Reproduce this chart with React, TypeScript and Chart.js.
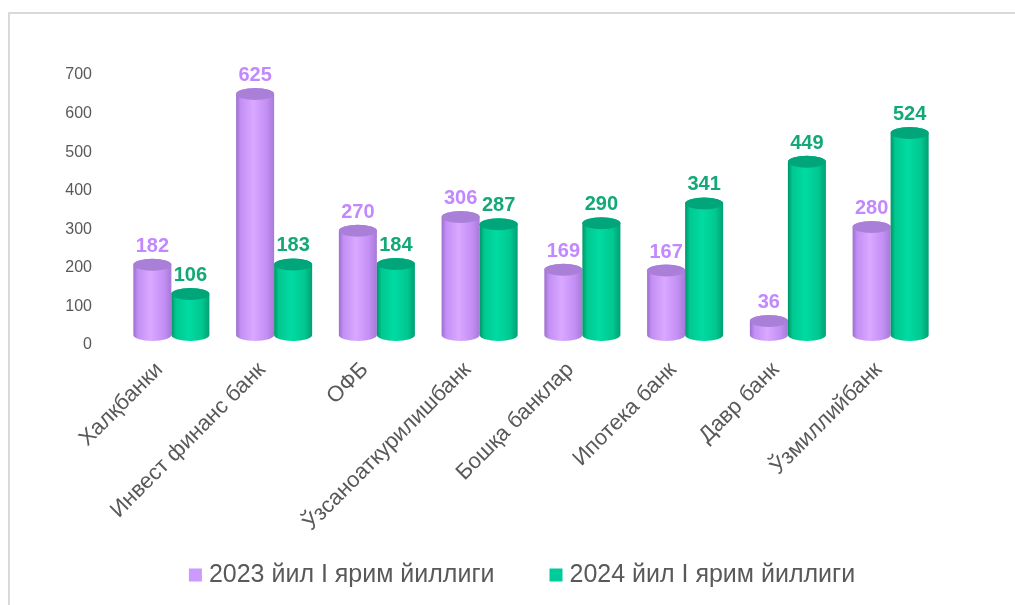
import React, { useEffect, useRef } from "react";
import { Chart, registerables } from "chart.js";

Chart.register(...registerables);

const categories = [
  "Халқбанки",
  "Инвест финанс банк",
  "ОФБ",
  "Ўзсаноаткурилишбанк",
  "Бошқа банклар",
  "Ипотека банк",
  "Давр банк",
  "Ўзмиллийбанк",
];
const series2023 = [182, 625, 270, 306, 169, 167, 36, 280];
const series2024 = [106, 183, 184, 287, 290, 341, 449, 524];
const seriesNames = ["2023 йил I ярим йиллиги", "2024 йил I ярим йиллиги"];
const yTicks = [0, 100, 200, 300, 400, 500, 600, 700];

const FONT = '"Liberation Sans", Arial, sans-serif';

const palettes = [
  { legend: "#cc99ff", edge: "#9c6fcc", light: "#d9a8ff", mid: "#c38ff5", right: "#a77ad6", top: "#a97fd8", label: "#c288ff" },
  { legend: "#00cc99", edge: "#009468", light: "#00dba2", mid: "#00c890", right: "#00a074", top: "#00a67a", label: "#12a877" },
];

const DY = -10;
const RY = 6;

const cylinderPlugin = {
  id: "cylinders",
  beforeDatasetDraw() {
    return false;
  },
  afterDatasetsDraw(chart: any) {
    const ctx = chart.ctx as CanvasRenderingContext2D;
    const labels: any[] = [];
    chart.data.datasets.forEach((ds: any, di: number) => {
      const meta = chart.getDatasetMeta(di);
      const pal = palettes[di];
      meta.data.forEach((bar: any, i: number) => {
        const { x, y, base, width } = bar.getProps(["x", "y", "base", "width"], true);
        const rx = width / 2;
        const l = x - rx;
        const r = x + rx;
        const top = y + DY;
        const bot = base + DY;
        ctx.save();
        const g = ctx.createLinearGradient(l, 0, r, 0);
        g.addColorStop(0, pal.edge);
        g.addColorStop(0.12, pal.mid);
        g.addColorStop(0.45, pal.light);
        g.addColorStop(0.8, pal.mid);
        g.addColorStop(1, pal.right);
        ctx.beginPath();
        ctx.moveTo(l, top);
        ctx.lineTo(l, bot);
        ctx.ellipse(x, bot, rx, RY, 0, Math.PI, 0, true);
        ctx.lineTo(r, top);
        ctx.ellipse(x, top, rx, RY, 0, 0, Math.PI, true);
        ctx.closePath();
        ctx.fillStyle = g;
        ctx.fill();
        ctx.beginPath();
        ctx.ellipse(x, top, rx, RY, 0, 0, Math.PI * 2);
        ctx.fillStyle = pal.top;
        ctx.fill();
        ctx.restore();
        labels.push({ x, y: top - RY - 7, text: String(ds.data[i]), color: pal.label });
      });
    });
    ctx.save();
    ctx.font = `bold 20px ${FONT}`;
    ctx.textAlign = "center";
    ctx.textBaseline = "alphabetic";
    labels.forEach((lb) => {
      ctx.fillStyle = lb.color;
      ctx.fillText(lb.text, lb.x, lb.y);
    });
    ctx.restore();
  },
};

const legendPlugin = {
  id: "bottomLegend",
  afterDraw(chart: any) {
    const ctx = chart.ctx as CanvasRenderingContext2D;
    const { left, right } = chart.chartArea;
    const box = 13;
    const gap = 7;
    const itemGap = 55;
    const cy = 575;
    ctx.save();
    ctx.font = `25px ${FONT}`;
    const items = chart.data.datasets.map((ds: any, i: number) => ({
      text: ds.label,
      color: palettes[i].legend,
      w: ctx.measureText(ds.label).width,
    }));
    const total = items.reduce((s: number, it: any) => s + box + gap + it.w, 0) + itemGap * (items.length - 1);
    let x = (left + right) / 2 - 9 - total / 2;
    ctx.textBaseline = "middle";
    ctx.textAlign = "left";
    items.forEach((it: any) => {
      ctx.fillStyle = it.color;
      ctx.fillRect(x, cy - box / 2, box, box);
      x += box + gap;
      ctx.fillStyle = "#595959";
      ctx.fillText(it.text, x, cy);
      x += it.w + itemGap;
    });
    ctx.restore();
  },
};

export default function App() {
  const ref = useRef<HTMLCanvasElement | null>(null);
  useEffect(() => {
    if (!ref.current) return;
    const chart = new Chart(ref.current, {
      type: "bar",
      data: {
        labels: categories,
        datasets: [
          { label: seriesNames[0], data: series2023, backgroundColor: palettes[0].legend },
          { label: seriesNames[1], data: series2024, backgroundColor: palettes[1].legend },
        ],
      },
      plugins: [cylinderPlugin, legendPlugin],
      options: {
        responsive: false,
        animation: false,
        devicePixelRatio: 1,
        layout: { padding: { left: 0, right: 73, top: 75, bottom: 0 } },
        datasets: { bar: { categoryPercentage: 0.74, barPercentage: 1 } },
        plugins: {
          tooltip: { enabled: false },
          legend: { display: false },
        },
        scales: {
          x: {
            grid: { display: false },
            border: { display: false },
            ticks: {
              autoSkip: false,
              minRotation: 45,
              maxRotation: 45,
              labelOffset: -12,
              padding: 4,
              color: "#595959",
              font: { family: FONT, size: 22 },
            },
            afterFit: (s: any) => {
              s.height = 260;
            },
          },
          y: {
            min: 0,
            max: 700,
            grid: { display: false },
            border: { display: false },
            afterBuildTicks: (s: any) => {
              s.ticks = yTicks.map((v) => ({ value: v }));
            },
            ticks: {
              padding: 20,
              color: "#595959",
              font: { family: FONT, size: 16 },
            },
            afterFit: (s: any) => {
              s.width = 120;
            },
          },
        },
      },
    });
    return () => chart.destroy();
  }, []);
  return (
    <div style={{ position: "fixed", left: 0, top: 0, width: 1015, height: 605, overflow: "hidden", background: "#fff" }}>
      <div
        style={{
          position: "absolute",
          left: 8,
          top: 12,
          width: 1200,
          height: 800,
          border: "2px solid #d9d9d9",
          boxSizing: "border-box",
        }}
      />
      <canvas ref={ref} width={1015} height={605} style={{ position: "absolute", left: 0, top: 0 }} />
    </div>
  );
}
